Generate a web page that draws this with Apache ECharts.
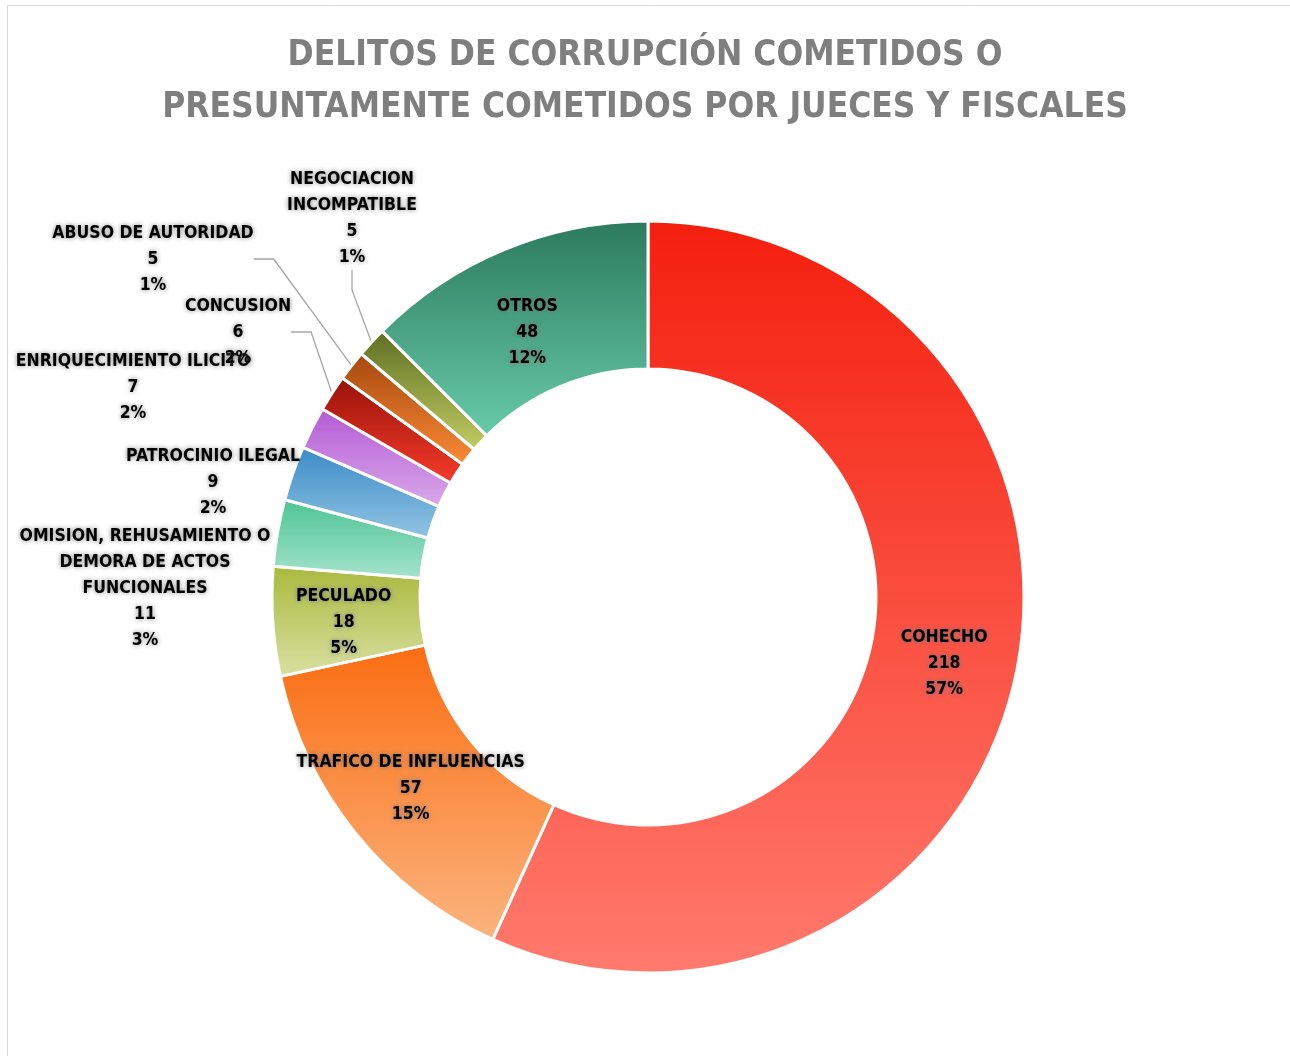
<!DOCTYPE html>
<html>
<head>
<meta charset="utf-8">
<script src="https://cdn.jsdelivr.net/npm/echarts@6/dist/echarts.min.js"></script>
<style>
html, body { margin: 0; padding: 0; background: #fff; }
#main { width: 1290px; height: 1056px; }
</style>
</head>
<body>
<div id="main"></div>
<script>
// datos, en orden horario desde arriba
var categorias = ["COHECHO", "TRAFICO DE INFLUENCIAS", "PECULADO",
    "OMISION, REHUSAMIENTO O\nDEMORA DE ACTOS\nFUNCIONALES", "PATROCINIO ILEGAL",
    "ENRIQUECIMIENTO ILICITO", "CONCUSION", "ABUSO DE AUTORIDAD",
    "NEGOCIACION\nINCOMPATIBLE", "OTROS"];
var valores = [218, 57, 18, 11, 9, 7, 6, 5, 5, 48];

var colorArriba = ["#f41f0e", "#fa6d12", "#a9b93c", "#4bc494", "#3a8bc7", "#b35ad5", "#981208", "#a6480e", "#5d6d22", "#2c7a5e"];
var colorAbajo  = ["#ff7a6d", "#fbb47f", "#d9e0a2", "#a7e3cd", "#93c5e3", "#d9a9e9", "#f63c2b", "#fb8b36", "#c2cd62", "#67cba9"];

// etiquetas fuera del anillo: centro del bloque de texto
var etiquetasFuera = {
    3: [145, 588],
    4: [213, 482],
    5: [133, 387],
    6: [238, 332],
    7: [153, 259],
    8: [352, 218]
};
// pequeños ajustes de las etiquetas interiores
var ajustesDentro = {
    0: [-2, 2],
    2: [0, 6],
    9: [-4, 17]
};
var sinLinea = [3, 5];

var fuente = "'Liberation Sans Narrow','DejaVu Sans Condensed','Liberation Sans',sans-serif";

var datos = valores.map(function (v, i) {
    var fuera = etiquetasFuera[i] !== undefined;
    return {
        name: categorias[i],
        value: v,
        itemStyle: {
            color: new echarts.graphic.LinearGradient(0, 0, 0, 1, [
                { offset: 0, color: colorArriba[i] },
                { offset: 1, color: colorAbajo[i] }
            ])
        },
        label: { position: fuera ? 'outside' : 'inside' },
        labelLine: { show: fuera && sinLinea.indexOf(i) < 0 }
    };
});

var chart = echarts.init(document.getElementById('main'));
chart.setOption({
    backgroundColor: '#fff',
    animation: false,
    title: {
        text: 'DELITOS DE CORRUPCIÓN COMETIDOS O\nPRESUNTAMENTE COMETIDOS POR JUECES Y FISCALES',
        left: 'center',
        top: 25,
        textStyle: {
            fontFamily: fuente,
            fontSize: 35,
            fontWeight: 'bold',
            color: '#7f7f7f',
            lineHeight: 52
        }
    },
    graphic: [{
        type: 'rect',
        shape: { x: 7.5, y: 5.5, width: 1400, height: 1200 },
        style: { fill: 'none', stroke: '#d9d9d9', lineWidth: 1 },
        silent: true
    }],
    series: [{
        type: 'pie',
        center: [648, 597],
        radius: [228, 376],
        startAngle: 90,
        clockwise: true,
        percentPrecision: 0,
        avoidLabelOverlap: false,
        itemStyle: { borderColor: '#fff', borderWidth: 3 },
        label: {
            formatter: '{b}\n{c}\n{d}%',
            color: '#000',
            fontFamily: fuente,
            fontSize: 17.5,
            fontWeight: 'bold',
            lineHeight: 26,
            align: 'center',
            textShadowColor: 'rgba(110,110,110,0.85)',
            textShadowBlur: 5
        },
        labelLine: {
            lineStyle: { color: '#a6a6a6', width: 1.3 },
            length: 30,
            length2: 20
        },
        labelLayout: function (p) {
            var pos = etiquetasFuera[p.dataIndex];
            if (pos) {
                return { x: pos[0], y: pos[1], align: 'center', verticalAlign: 'middle' };
            }
            var d = ajustesDentro[p.dataIndex];
            if (d) return { dx: d[0], dy: d[1] };
            return {};
        },
        data: datos
    }]
});
</script>
</body>
</html>
